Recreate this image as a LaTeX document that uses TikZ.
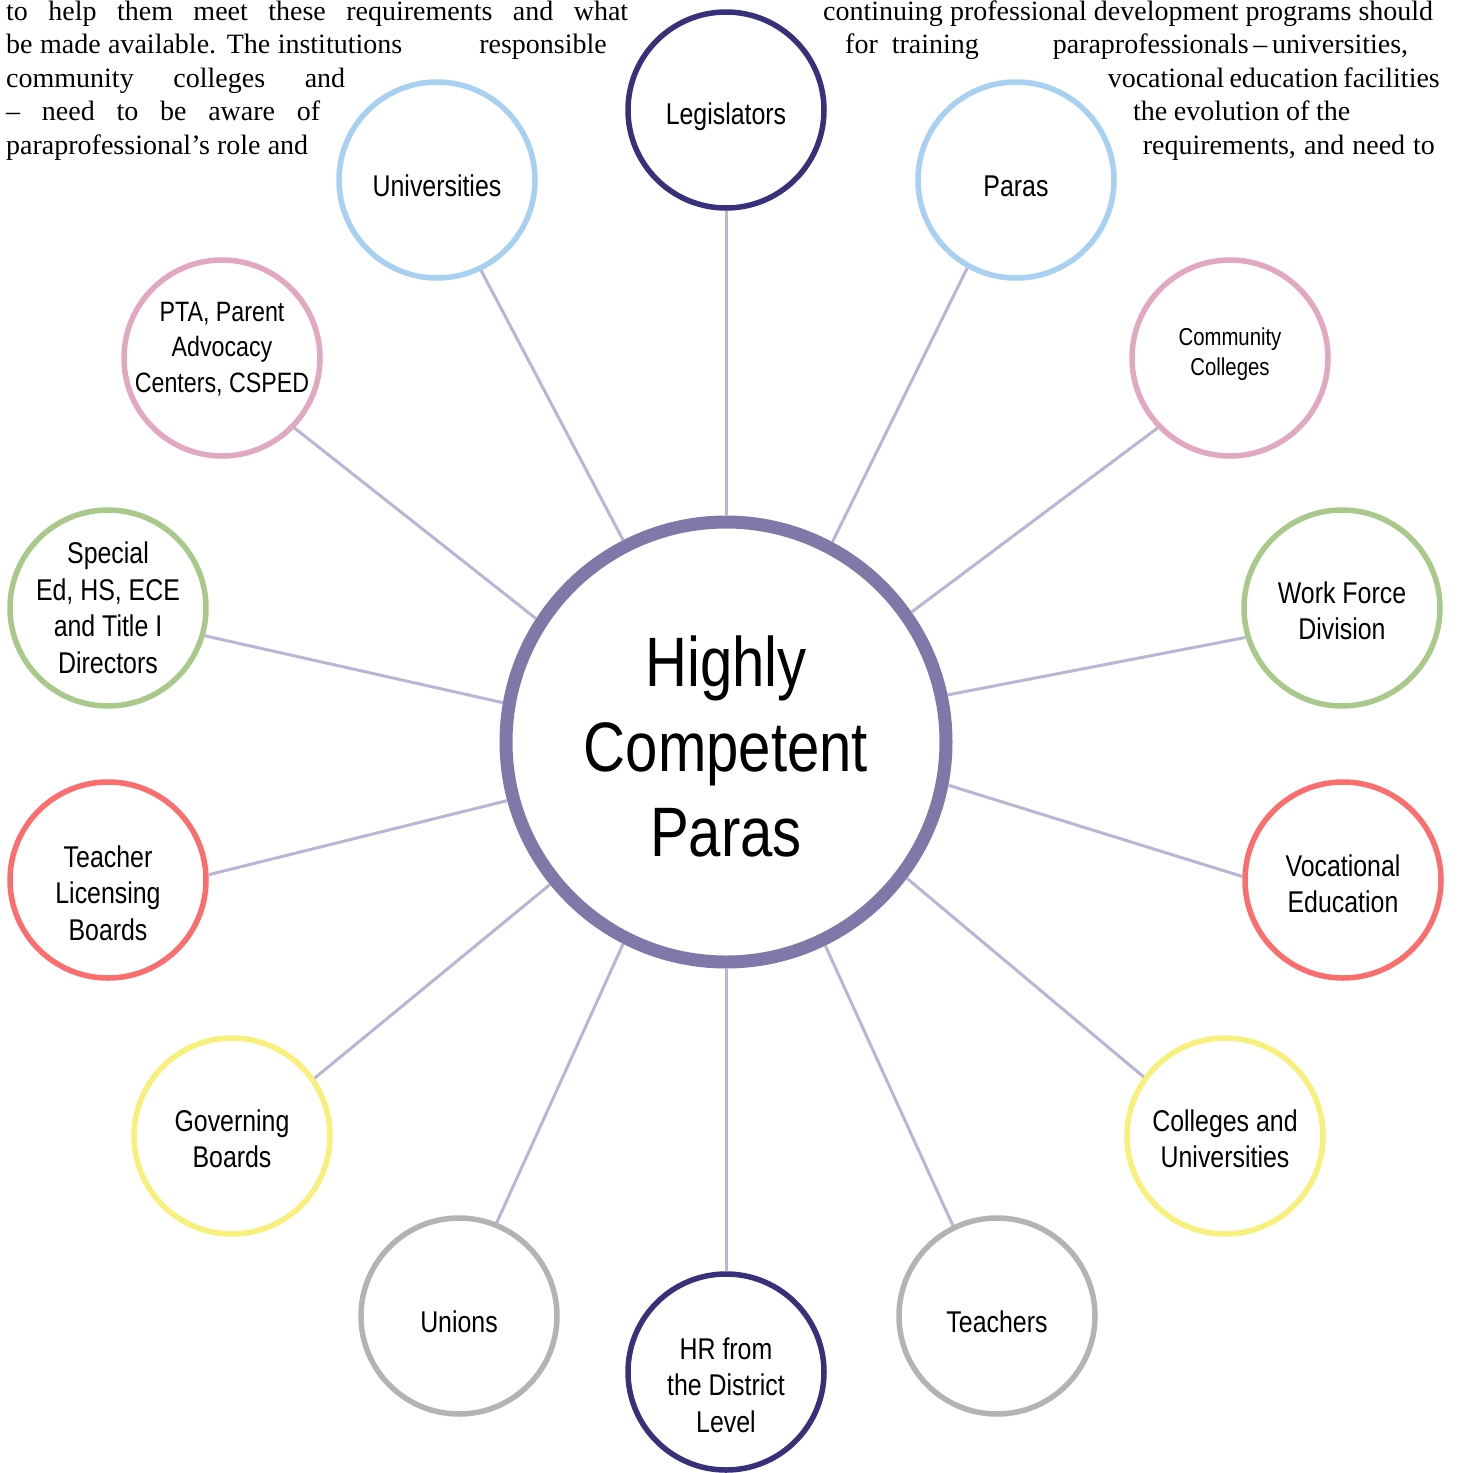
\documentclass[tikz,border=0pt]{standalone}
\usepackage{fontspec}
\setmainfont{Liberation Serif}
\setsansfont{Liberation Sans}[FakeStretch=0.83]
\definecolor{navy}{HTML}{37307A}
\definecolor{hub}{HTML}{7F78A8}
\definecolor{conn}{HTML}{B9B5D5}
\definecolor{cblue}{HTML}{A8D0F0}
\definecolor{cpink}{HTML}{E2A8C2}
\definecolor{cgreen}{HTML}{A9C98B}
\definecolor{cred}{HTML}{FA6E6E}
\definecolor{cyellow}{HTML}{F8F07A}
\definecolor{cgray}{HTML}{B3B3B3}
\tikzset{
  sat/.style={circle, draw=#1, line width=5.5pt, fill=white, minimum size=196pt, inner sep=0pt},
  lbl/.style={align=center, font=\sffamily\fontsize{30}{36.5}\selectfont, inner sep=0pt},
  lblsmall/.style={align=center, font=\sffamily\fontsize{24.5}{30}\selectfont, inner sep=0pt},
  lblmid/.style={align=center, font=\sffamily\fontsize{28}{35.5}\selectfont, inner sep=0pt},
  link/.style={draw=conn, line width=3pt},
  prose/.style={font=\fontsize{28}{33}\selectfont, inner sep=0pt, anchor=base west},
  prosee/.style={font=\fontsize{28}{33}\selectfont, inner sep=0pt, anchor=base east},
}
\begin{document}
\begin{tikzpicture}[x=1pt,y=-1pt]
\useasboundingbox (0,0) rectangle (1459,1473);
% prose
\node[prose] (l1) at (6,20) {\makebox[622pt][s]{to help them meet these requirements and what}};
\node[prose] (l2a) at (6,53) {\makebox[396pt][s]{be made available. The institutions}};
\node[prosee] (l2b) at (607,53) {responsible};
\node[prose] (l3) at (6,87) {\makebox[339pt][s]{community colleges and}};
\node[prose] (l4) at (6,120) {\makebox[314pt][s]{– need to be aware of}};
\node[prose] (l5) at (6,154) {\makebox[302pt][s]{paraprofessional’s role and}};
\node[prose] (r1) at (823,20) {\makebox[610pt][s]{continuing professional development programs should}};
\node[prose] (r2a) at (845,53) {for\ \ training};
\node[prosee] (r2b) at (1407,53) {\makebox[354pt][s]{paraprofessionals – universities,}};
\node[prosee] (r3) at (1440,87) {\makebox[332pt][s]{vocational education facilities}};
\node[prose] (r4) at (1133,120) {\makebox[217pt][s]{the evolution of the}};
\node[prosee] (r5) at (1435,154) {\makebox[292pt][s]{requirements, and need to}};
% hub
\node[circle, draw=hub, line width=13pt, fill=white, minimum size=440pt, inner sep=0pt] (hub) at (726,742) {};
\node[align=center, font=\sffamily\fontsize{70}{85}\selectfont, inner sep=0pt] (hubt) at (726,746) {Highly\\Competent\\Paras};
% satellites
\node[sat=navy] (leg) at (726,110) {};
\node[sat=cblue] (uni) at (437,180) {};
\node[sat=cblue] (par) at (1016,180) {};
\node[sat=cpink] (pta) at (222,358) {};
\node[sat=cpink] (cc) at (1230,358) {};
\node[sat=cgreen] (sped) at (108,608) {};
\node[sat=cgreen] (wf) at (1342,608) {};
\node[sat=cred] (tlb) at (108,880) {};
\node[sat=cred] (voc) at (1343,880) {};
\node[sat=cyellow] (gov) at (232,1136) {};
\node[sat=cyellow] (cau) at (1225,1136) {};
\node[sat=cgray] (uni2) at (459,1316) {};
\node[sat=cgray] (tea) at (997,1316) {};
\node[sat=navy] (hr) at (726,1372) {};
% labels
\node[lbl] (legt) at (726,117) {Legislators};
\node[lbl] (unit) at (437,186) {Universities};
\node[lbl] (part) at (1016,186) {Paras};
\node[lblmid] (ptat) at (222,349) {PTA, Parent\\Advocacy\\Centers, CSPED};
\node[lblsmall] (cct) at (1230,354) {Community\\Colleges};
\node[lbl] (spedt) at (108,608) {Special\\Ed, HS, ECE\\and Title I\\Directors};
\node[lbl] (wft) at (1342,611) {Work Force\\Division};
\node[lbl] (tlbt) at (108,893) {Teacher\\Licensing\\Boards};
\node[lbl] (voct) at (1343,884) {Vocational\\Education};
\node[lbl] (govt) at (232,1139) {Governing\\Boards};
\node[lbl] (caut) at (1225,1139) {Colleges and\\Universities};
\node[lbl] (uni2t) at (459,1322) {Unions};
\node[lbl] (teat) at (997,1322) {Teachers};
\node[lbl] (hrt) at (726,1385) {HR from\\the District\\Level};
% connectors
\foreach \s/\a/\b in {leg/-90/90, uni/-64.9/117.2, par/-119.6/62.5, pta/-44.6/147,
  cc/-136.2/35.4, sped/-16/170.1, wf/-163.4/12.2, tlb/3.4/195.8, voc/178.9/-11.4,
  gov/35.4/-141.6, cau/144.3/-37.9, uni2/68/-117.2, tea/116.3/-64.8, hr/90/-90}
  \draw[link] (\s.\a) -- (hub.\b);
\end{tikzpicture}
\end{document}
